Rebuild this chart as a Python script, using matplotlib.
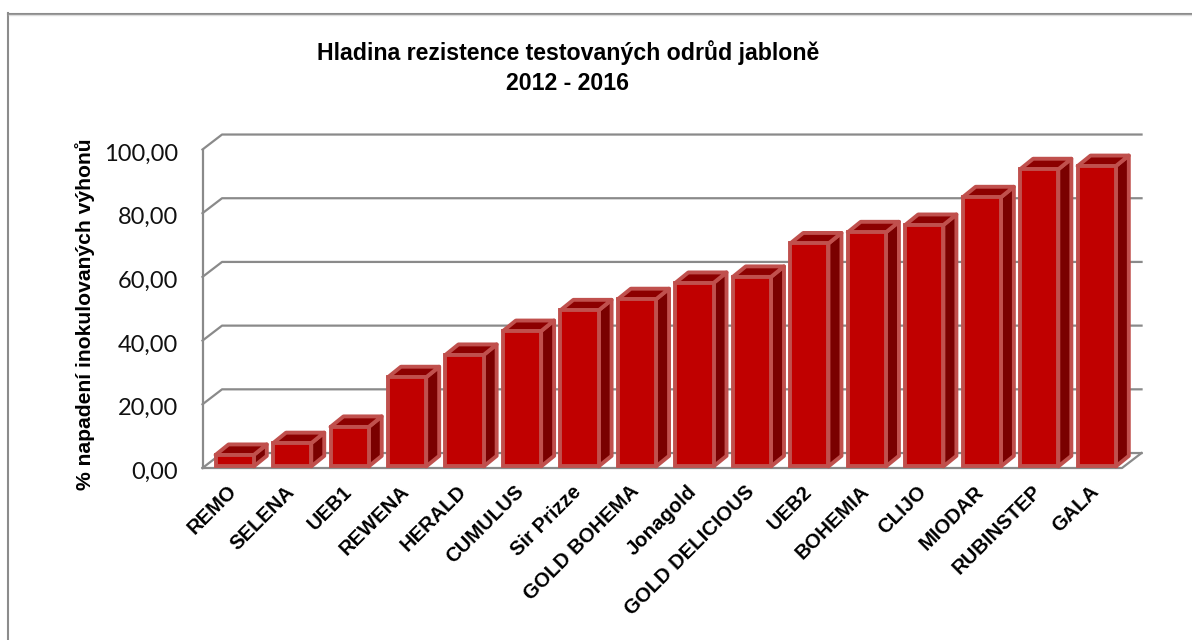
"""Bar chart of resistance levels of tested apple varieties, drawn with a fake 3D look."""

import matplotlib
matplotlib.use("Agg")
import matplotlib.pyplot as plt
import numpy as np
from matplotlib.lines import Line2D
from matplotlib.patches import Polygon
from matplotlib.transforms import ScaledTranslation

varieties = ["REMO", "SELENA", "UEB1", "REWENA", "HERALD", "CUMULUS", "Sir Prizze",
             "GOLD BOHEMA", "Jonagold", "GOLD DELICIOUS", "UEB2", "BOHEMIA", "CLIJO",
             "MIODAR", "RUBINSTEP", "GALA"]
attacked = [3.6, 7.3, 12.4, 28.0, 35.0, 42.5, 49.0, 52.5, 57.6, 59.5,
            70.0, 73.5, 75.8, 84.5, 93.3, 94.3]
y_ticks = [0, 20, 40, 60, 80, 100]

GRID = "#8a8a8a"
EDGE = "#c0504d"
FRONT = "#c00000"
TOP = "#8c0000"
SIDE = "#7a0000"

# depth of the walls and of the bars, in data units
WALL_DX, WALL_DY = 0.34, 4.7
BAR_DX, BAR_DY = 0.226, 3.3
BAR_WIDTH = 0.665
BAR_SHIFT, BAR_LIFT = 0.06, 0.5

W, H = 1192, 640
fig = plt.figure(figsize=(W / 100, H / 100), dpi=100)
ax = fig.add_axes([202.5 / W, (H - 468) / H, 919.5 / W, 318.5 / H])
ax.set_xlim(0, len(varieties))
ax.set_ylim(0, 100)
for s in ax.spines.values():
    s.set_visible(False)
ax.patch.set_visible(False)

# chart frame, only left and top fall inside the crop
fig.add_artist(Line2D([8 / W, 8 / W], [0, 1 - 13 / H], color="#8c8c8c", lw=1.5))
fig.add_artist(Line2D([8 / W, 1], [1 - 13.5 / H] * 2, color="#8c8c8c", lw=1.5))
fig.add_artist(Line2D([9 / W, 1], [1 - 15 / H] * 2, color="#dddddd", lw=1))

# walls and gridlines
n = len(varieties)
for t in y_ticks:
    ax.plot([0, WALL_DX, n + WALL_DX], [t, t + WALL_DY, t + WALL_DY],
            color=GRID, lw=1.6, clip_on=False, zorder=1)
ax.plot([0, 0], [0, 100], color=GRID, lw=1.6, clip_on=False, zorder=1)
ax.plot([0, n, n + WALL_DX], [0, 0, WALL_DY], color=GRID, lw=1.6, clip_on=False, zorder=1)

# bars
x = np.arange(n) + 0.5 + BAR_SHIFT
bars = ax.bar(x, attacked, width=BAR_WIDTH, bottom=BAR_LIFT, color=FRONT,
              edgecolor=EDGE, linewidth=2.8, zorder=4, clip_on=False)
for i, bar in enumerate(bars):
    x0, x1 = bar.get_x(), bar.get_x() + bar.get_width()
    y0, y1 = BAR_LIFT, BAR_LIFT + attacked[i]
    side = [(x1, y0), (x1 + BAR_DX, y0 + BAR_DY), (x1 + BAR_DX, y1 + BAR_DY), (x1, y1)]
    top = [(x0, y1), (x0 + BAR_DX, y1 + BAR_DY), (x1 + BAR_DX, y1 + BAR_DY), (x1, y1)]
    for pts, col in ((side, SIDE), (top, TOP)):
        ax.add_patch(Polygon(pts, closed=True, facecolor=col, edgecolor=EDGE,
                             linewidth=2.8, joinstyle="round", zorder=3, clip_on=False))

# axes text
ax.set_yticks(y_ticks)
ax.set_yticklabels([f"{t:.2f}".replace(".", ",") for t in y_ticks],
                   fontfamily="Lato", fontsize=17, color="#111111")
ax.set_xticks(np.arange(n) + 0.43)
ax.set_xticklabels(varieties, rotation=45, ha="right", va="top", rotation_mode="anchor",
                   fontfamily="Liberation Sans", fontweight="bold", fontsize=14.6)
ax.tick_params(axis="y", length=0, pad=16)
ax.tick_params(axis="x", length=0, pad=10)
nudge = ScaledTranslation(-2 / 100, -2.5 / 100, fig.dpi_scale_trans)
for label in ax.get_yticklabels():
    label.set_transform(label.get_transform() + nudge)

fig.text(85 / W, 1 - 314 / H, "% napadení inokulovaných výhonů", rotation=90,
         ha="center", va="center", family="Liberation Sans", fontweight="bold", fontsize=15.2)
fig.text(568 / W, 1 - 53 / H, "Hladina rezistence testovaných odrůd jabloně",
         ha="center", va="center", family="Liberation Sans", fontweight="bold", fontsize=16.7)
fig.text(568 / W, 1 - 83 / H, "2012 - 2016",
         ha="center", va="center", family="Liberation Sans", fontweight="bold", fontsize=16.7)

fig.savefig("out.png", dpi=100)
